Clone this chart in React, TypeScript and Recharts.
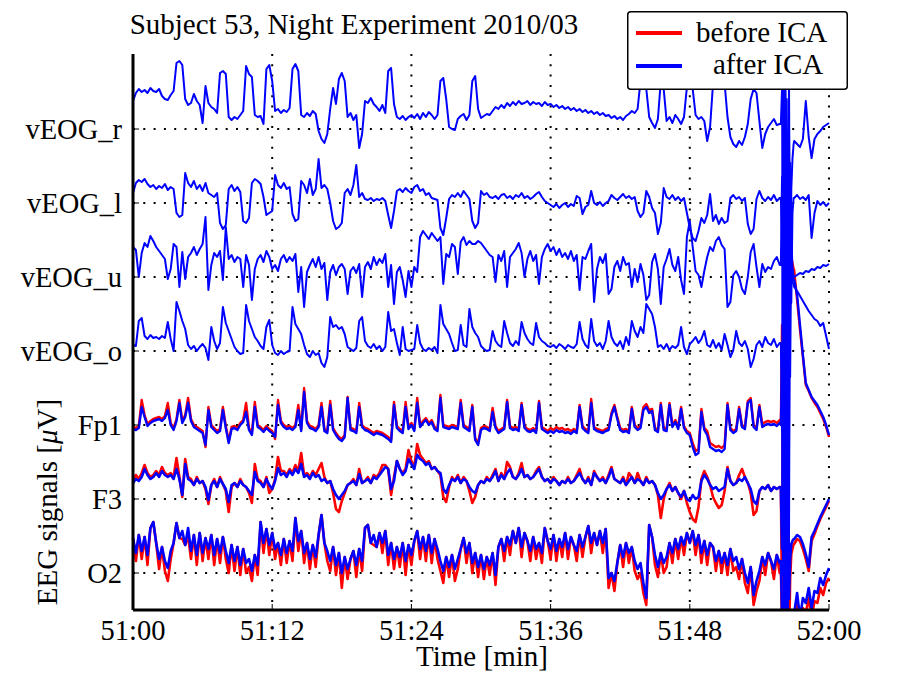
import React from 'react';
import { LineChart, Line, XAxis, YAxis, CartesianGrid, Legend } from 'recharts';

// channel names, bottom to top
const CHANNELS = ['O2', 'F3', 'Fp1', 'vEOG_o', 'vEOG_u', 'vEOG_l', 'vEOG_r'];
const SPACING = 74; // uV between stacked channels
const X_TICKS = [0, 12, 24, 36, 48, 60]; // seconds after 51:00

// sample times (s), every 0.25 s
const T = Array.from({ length: 241 }, (_, i) => i * 0.25);
// movement artifact at ~51:56, finer samples
const BURST_T = [55.85, 55.95, 56.05, 56.15, 56.25, 56.35, 56.45, 56.55, 56.65, 56.75, 56.85, 56.95];

// values in uV, one row = 5 s
const vEOG_r = [
  28, 36, 40, 37, 39, 36, 41, 38, 37, 40, 33, 30, 29, 34, 38, 66, 68, 64, 30, 24,
  26, 35, 28, 24, 6, 43, 26, 22, 20, 16, 56, 58, 55, 12, 9, 12, 10, 14, 18, 63,
  55, 52, 14, 12, 13, 5, 60, 64, 48, 18, 20, 16, 19, 17, 21, 60, 65, 58, 14, 12,
  16, 13, 18, 15, -2, -10, -14, -5, 20, 41, 25, 50, 56, 48, 12, 16, 9, 14, -19, -5,
  28, 26, 31, 25, 22, 18, 24, 16, 58, 61, 25, 12, 10, 13, 9, 12, 14, 11, 15, 10,
  16, 12, 17, 14, 10, 14, 48, 51, 30, 2, 0, -1, 10, 13, 15, 9, 14, 48, 53, 20,
  11, 13, 15, 14, 18, 22, 20, 24, 21, 26, 23, 27, 24, 28, 25, 26, 28, 24, 27, 25,
  26, 23, 27, 24, 25, 22, 24, 21, 23, 20, 22, 19, 21, 18, 20, 17, 19, 16, 18, 15,
  17, 14, 16, 13, 14, 11, 13, 10, 12, 9, 13, 15, 18, 16, 20, 48, 45, 40, 12, 6,
  1, 10, 48, 40, 8, 12, 6, 14, 10, 5, 12, 42, 46, 40, 14, 10, 12, 8, -12, 2,
  45, 50, 48, 52, 46, 12, -8, -15, -18, -12, -16, -8, 5, 30, 40, 36, 8, -19, -5, 2,
  6, 10, 4, 5, null, null, null, null, -12, -15, -18, -10, 28, -8, -29, -10, -5, -2, 2, 4,
  6,
];
const vEOG_l = [
  10, 20, 23, 21, 24, 19, 16, 18, 14, 17, 15, 19, 13, 16, 14, -10, -14, -12, 30, 20,
  16, 22, 14, 18, 12, 20, 10, 8, 6, 10, -20, -26, -22, 14, 18, 12, 16, 11, -18, -20,
  -15, 20, 24, 22, 19, 6, -12, -10, -8, 28, 18, 15, 20, 14, 16, -11, -18, -16, 22, 18,
  10, 24, 8, 14, 44, 15, 18, 14, 0, -18, -26, -24, -20, 10, 14, 8, 18, 38, 6, 10,
  4, 3, 5, 2, 4, 3, 5, 2, -12, -25, -8, 12, 14, 11, 15, 12, 10, 16, 18, 12,
  14, 8, 10, 5, 4, 3, -25, -32, -15, 4, 8, 6, 10, 6, 12, 8, 4, -18, -25, -20,
  12, 8, 10, 6, 5, 7, 4, 8, 9, 5, 7, 4, 8, 6, 10, 5, 7, 4, 6, 9,
  11, 6, 2, 0, -2, -4, -1, -5, -2, 0, -4, -1, -3, 7, 5, -11, -4, -2, 12, 0,
  -2, 1, -3, 0, 2, 8, 5, 3, 6, 9, 5, 7, 4, 6, -8, -14, -10, 12, 6, -5,
  -10, -31, -20, 15, 6, 4, 8, 3, 6, 2, 5, -10, -25, -35, -38, -28, -15, -20, -12, 9,
  -18, -12, -21, -15, -20, -18, 5, 8, 4, 6, 2, 5, -21, -31, -26, 4, 12, 5, 2, 6,
  3, 8, 2, 5, null, null, null, null, 5, 8, 4, 6, 3, 8, -35, -10, 2, -2, 1, -3,
  0,
];
const vEOG_u = [
  30, 27, 0, 24, 34, 30, 41, 36, 30, 26, 22, 18, -2, 8, 33, 30, -10, 25, -2, 20,
  24, 30, 22, 28, 33, 60, -13, 12, 24, 20, 26, -3, 50, 18, 22, 15, 20, 18, -10, 22,
  12, -23, 8, 18, 22, 15, 26, 20, 8, 12, 6, 18, 22, 15, 20, 16, 23, -15, 10, -30,
  5, 12, 18, 10, 20, 8, 14, -23, 5, 12, 2, 10, 13, 8, -17, 6, 10, 4, 13, -20,
  10, 15, 8, 20, 12, 18, 14, 23, -10, 12, -27, 5, 10, -3, -20, 6, -10, 10, 5, 40,
  46, 42, 38, 44, 40, 36, 40, -7, 23, 20, 33, 30, 3, 35, 40, 32, 36, 33, 33, 36,
  34, 30, 26, 22, 20, -5, 22, 16, 26, -10, 20, 24, 28, 34, 24, 0, 18, 26, 16, 22,
  -7, 20, 28, 33, 26, 30, 22, 28, 20, 24, 18, 26, 16, 22, -13, 20, 18, 26, 33, -25,
  8, 20, 14, 23, -17, -12, 10, 16, 6, 20, 12, 14, -10, 8, -5, 13, 2, -23, -18, 15,
  23, 8, -27, 10, 18, 28, 12, 6, 20, -3, -17, 40, 56, 30, 6, 2, -10, 6, 20, 30,
  26, 36, 40, 32, 28, -30, -25, 2, 6, 0, -12, -17, 0, 25, 33, 10, -10, 13, 5, 10,
  8, 16, 20, 12, null, null, null, null, 0, 2, 4, 3, 6, 5, 8, 7, 10, 9, 12, 11,
  13,
];
const vEOG_o = [
  6, 5, 30, 33, 15, 12, 16, 13, 14, 12, 15, 13, 29, 12, 0, 49, 40, 30, 22, 6,
  2, 5, 0, 4, 7, 3, -9, 24, 10, 2, 8, 44, 28, 20, 12, 4, 0, -3, -2, 46,
  30, 22, 14, 10, 5, 2, 24, 31, 6, -2, -4, 0, -3, -1, 0, 44, 27, 22, 17, 6,
  -3, -6, 0, -4, -2, -12, -16, -6, 34, 24, 26, 22, 24, 17, 4, 2, 0, 3, 30, 34,
  10, 5, 3, 7, 2, 5, 0, 4, 39, 20, 22, 8, -4, 24, 2, 0, 1, 2, 26, 8,
  2, 0, 3, 1, 4, -2, 46, 27, 22, 17, 8, 0, 1, 26, 6, 4, 42, 24, 18, 14,
  5, 2, 0, 1, 20, 10, 6, 4, 30, 18, 8, 5, 10, 6, 29, 18, 12, 8, 6, 28,
  14, 10, 8, 5, 4, 6, 3, 7, 5, 2, 6, 4, 3, 7, 29, 12, 6, 3, 32, 10,
  5, 8, 2, 10, 30, 14, 8, 5, 10, 2, 14, 6, 30, 20, 14, 24, 18, 47, 42, 37,
  24, 4, 6, 2, 7, 1, 5, 3, 6, 24, 4, -3, 7, 10, 14, 8, 12, 20, 6, 4,
  11, 3, 8, 1, 17, 6, -6, 1, 20, 8, 5, 10, 2, -16, -8, 6, 10, 4, 14, 8,
  6, 12, 4, 8, null, null, null, null, 64, 60, 55, 50, 45, 40, 36, 32, 30, 25, 28, 15,
  2,
];
const fp1After = [
  -4, -5, -3, 18, 8, -1, 2, 4, 5, 6, 4, 7, 15, 0, -5, 4, 22, 2, 8, 22,
  4, -2, -4, -6, -8, -20, 15, -2, -5, -8, -6, 15, -3, -18, -4, -3, -5, 0, 3, 13,
  -5, -10, 18, -2, -4, -7, -3, -6, -8, -12, 20, 2, -2, -4, -3, -5, -2, 15, -6, 33,
  2, -3, -4, -6, -2, 18, -6, -8, 20, -5, -10, -14, -16, -12, 27, -5, -6, -8, 18, -2,
  -5, -6, -8, -10, -8, -9, -10, -12, -14, -17, 20, -3, -6, -8, 18, -4, 0, -6, 22, -2,
  2, 5, 0, 3, -4, -6, 27, -2, -3, -4, -2, -3, -4, 22, -2, -4, -6, 18, -15, -20,
  -5, -3, -4, -6, 13, -3, -8, -6, -4, 23, -3, -5, -4, -6, 20, -3, -6, -7, -5, -8,
  22, -4, -6, -8, -6, -8, -5, -7, -6, -8, -7, -9, -6, -8, 18, -3, -6, -8, 22, -4,
  -6, -7, -8, -6, -5, 10, 18, 6, -5, -7, -6, -8, 16, -2, -5, -3, 15, 18, 12, 14,
  -5, -7, 20, -5, -6, 20, -2, 3, -4, 16, -3, -8, -10, -22, -30, -28, 13, -5, -10, -22,
  -24, -26, -25, -27, -24, 20, -5, -8, -6, 16, -2, -4, 22, 25, -2, -5, 18, -2, 0, 1,
  0, 1, -1, 2, null, null, null, null, 145, 130, 100, 70, 42, 35, 28, 24, 20, 14, 8, 0,
  -10,
];
const fp1Before = [
  -2, -3, -1, 25, 10, 1, 4, 6, 7, 8, 6, 9, 22, 2, -3, 6, 25, 4, 10, 27,
  6, 0, -2, -4, -6, -22, 18, 0, -3, -6, -4, 18, -1, -16, -2, -1, -3, 2, 5, 22,
  -3, -8, 23, 0, -2, -5, -1, -4, -6, -14, 25, 4, 0, -2, -1, -3, 0, 20, -4, 37,
  4, -1, -2, -4, 0, 22, -4, -6, 24, -3, -8, -12, -14, -10, 28, -3, -4, -6, 22, 0,
  -3, -4, -6, -8, -6, -7, -8, -10, -12, -15, 23, -1, -4, -6, 23, -2, 2, -4, 27, 0,
  4, 7, 2, 5, -2, -4, 30, 0, -1, -2, 0, -1, -2, 25, 0, -2, -4, 20, -13, -18,
  -3, -1, -2, -4, 17, -1, -6, -4, -2, 25, -1, -3, -2, -4, 22, -1, -4, -5, -3, -6,
  24, -2, -4, -6, -3, -5, -2, -4, -3, -5, -4, -6, -4, -6, 20, -1, -4, -6, 26, -2,
  -4, -5, -6, -4, -3, 12, 20, 8, -3, -5, -4, -6, 18, 0, -3, -1, 18, 21, 15, 16,
  -3, -5, 22, -3, -4, 22, 0, 5, -2, 18, -1, -6, -8, -18, -26, -24, 16, -3, -6, -18,
  -20, -22, -21, -23, -20, 22, -3, -6, -4, 18, 0, -2, 24, 27, 0, -3, 20, 1, 3, 4,
  3, 4, 2, 5, null, null, null, null, 155, 125, 95, 68, 40, 34, 27, 22, 18, 12, 6, -2,
  -12,
];
const f3After = [
  16, 20, 18, 22, 30, 24, 20, 22, 26, 22, 28, 24, 22, 24, 20, 30, 20, 4, 35, 20,
  18, 14, 20, 16, 18, 12, -1, 14, 18, 12, 20, 15, 10, -3, 14, 16, 12, 18, 14, 12,
  8, 4, 27, 18, 16, 12, 20, 14, 10, 18, 31, 24, 26, 22, 28, 24, 30, 26, 35, 22,
  24, 20, 26, 22, 24, 18, 20, 16, 18, 10, 4, 0, 4, 8, 14, 16, 18, 14, 25, 16,
  18, 20, 16, 22, 20, 24, 28, 32, 30, 10, 18, 38, 30, 24, 28, 40, 35, 30, 44, 40,
  38, 34, 36, 30, 32, 28, 26, 10, 6, 14, 20, 18, 22, 16, 20, 18, 12, 8, 6, 14,
  18, 16, 20, 18, 22, 28, 18, 24, 20, 26, 30, 22, 20, 24, 30, 22, 24, 20, 22, 26,
  30, 22, 18, 20, 16, 20, 18, 14, 18, 16, 20, 16, 18, 22, 26, 20, 16, 20, 14, 26,
  22, 18, 20, 16, 22, 30, 20, 18, 16, 20, 14, 18, 22, 16, 20, 18, 14, 20, 16, 18,
  14, 6, 0, 4, 10, 14, 8, 12, 6, 2, 8, 0, -2, 4, 0, 2, 18, 24, 20, 14,
  10, 12, 8, 10, 12, 30, 18, 14, 16, 20, 18, 22, 16, 10, -2, -5, 8, 12, 10, 14,
  8, 12, 10, 12, null, null, null, null, -40, -36, -38, -45, -55, -68, -38, -32, -25, -18, -12, -6,
  0,
];
const f3Before = [
  18, 24, 20, 26, 34, 26, 22, 24, 28, 24, 32, 26, 24, 26, 22, 41, 22, 2, 40, 22,
  20, 14, 22, 16, 18, 10, -5, 14, 20, 12, 22, 15, 8, -13, 12, 16, 12, 20, 14, 12,
  6, -4, 35, 20, 18, 12, 22, 6, 10, 20, 42, 28, 28, 24, 30, 26, 34, 28, 46, 24,
  26, 22, 28, 24, 30, 36, 22, 16, 18, 6, -10, -13, -2, 6, 14, 16, 20, 14, 30, 16,
  18, 22, 16, 24, 22, 26, 34, 34, 30, 4, 22, 38, 30, 26, 30, 49, 38, 32, 55, 44,
  40, 36, 38, 30, 32, 28, 24, 2, -3, 12, 22, 18, 24, 16, 22, 18, 8, -4, 2, 14,
  18, 16, 22, 18, 24, 30, 18, 26, 20, 37, 32, 22, 20, 26, 36, 22, 24, 20, 22, 28,
  32, 22, 18, 20, 16, 22, 18, 14, 18, 16, 22, 16, 18, 24, 30, 20, 16, 22, 14, 28,
  22, 18, 22, 16, 24, 32, 20, 18, 16, 22, 14, 26, 22, 16, 26, 18, 14, 22, 16, 18,
  14, 4, -19, 0, 10, 16, 8, 12, 6, 0, 8, -4, -13, -20, -23, -8, 20, 28, 22, 14,
  2, -4, -9, -6, 8, 32, 18, 14, 16, 24, 30, 22, 16, 6, -16, -12, 8, 12, 10, 14,
  8, 12, 10, 12, null, null, null, null, -45, -40, -42, -50, -60, -72, -42, -35, -27, -20, -14, -8,
  -2,
];
const o2After = [
  35, 20, 38, 22, 36, 18, 45, 51, 30, 14, 26, 12, 5, 22, 30, 50, 35, 42, 28, 45,
  22, 38, 18, 40, 20, 35, 24, 38, 18, 34, 20, 36, 22, 10, 28, 12, 26, 8, 24, 10,
  14, 2, 18, 8, 51, 30, 44, 28, 40, 24, 30, 18, 34, 20, 32, 22, 55, 32, 42, 20,
  30, 14, 28, 16, 38, 58, 30, 22, 12, 26, 8, 20, 0, 16, 4, 14, 22, 8, 24, 12,
  45, 48, 30, 38, 26, 40, 30, 42, 18, 30, 14, 26, 16, 30, 12, 28, 18, 32, 42, 24,
  36, 22, 38, 20, 34, 24, 12, 2, 16, 6, 18, 4, 14, 24, 35, 20, 30, 10, 20, 6,
  18, 4, 16, 8, 20, -2, 26, 34, 22, 36, 28, 42, 30, 45, 26, 40, 32, 22, 36, 24,
  30, 20, 45, 32, 24, 38, 22, 34, 26, 40, 24, 36, 28, 22, 38, 26, 36, 47, 30, 40,
  28, 42, 30, 44, -5, 0, -8, 10, 28, 16, 30, 20, 26, 12, 4, 10, -10, -25, 48, 36,
  18, 6, 20, 10, 16, 30, 20, 34, 24, 36, 28, 40, 30, 42, 28, 38, 20, 32, 18, 30,
  26, 12, 22, 10, 20, 8, 24, 12, 16, 4, 14, 0, -10, 6, -22, -8, 2, 16, 8, 20,
  12, 4, 18, 10, null, null, null, null, -40, -20, -45, -25, -30, -15, -35, -18, -20, -5, -12, -2,
  5,
];
const o2Before = [
  35, 12, 38, 14, 36, 8, 45, 51, 30, 4, 26, 2, -8, 14, 30, 50, 35, 34, 28, 37,
  14, 38, 8, 40, 12, 35, 14, 38, 8, 34, 10, 36, 14, 0, 28, 2, 26, -2, 24, 0,
  6, -8, 18, -2, 51, 20, 44, 18, 40, 14, 30, 8, 34, 10, 32, 12, 55, 22, 42, 10,
  30, 4, 28, 6, 38, 58, 30, 12, 2, 26, -2, 20, -15, 16, -6, 14, 22, -4, 24, 2,
  45, 48, 30, 28, 26, 40, 20, 42, 8, 30, 4, 26, 6, 30, -2, 28, 8, 32, 42, 14,
  36, 12, 38, 10, 34, 14, 2, -10, 16, -4, 18, -8, 4, 24, 35, 10, 30, 0, 20, -4,
  18, -6, 16, -2, 20, -12, 26, 34, 12, 36, 18, 42, 30, 45, 16, 40, 32, 12, 36, 14,
  30, 10, 45, 32, 14, 38, 12, 34, 16, 40, 14, 36, 28, 12, 38, 16, 36, 47, 20, 40,
  28, 42, 20, 44, -15, 0, -18, 10, 28, 6, 30, 10, 26, 2, -6, 0, -20, -32, 48, 36,
  8, -4, 20, 0, 6, 30, 10, 34, 14, 36, 18, 40, 30, 42, 18, 38, 10, 32, 8, 30,
  26, 2, 22, 0, 20, -2, 24, 2, 6, -6, 14, -10, -20, 6, -32, -18, -8, 16, -2, 20,
  12, -6, 18, 0, null, null, null, null, -50, -30, -55, -35, -40, -25, -45, -28, -30, -15, -22, -10,
  -5,
];

// artifact samples at BURST_T
const burst = {
  vEOG_r: [5, 40, -120, 60, -250, 30, -300, 50, -180, -60, -30, -15],
  vEOG_l: [5, -40, 150, -200, 80, -320, 60, -260, 40, -100, -10, 5],
  vEOG_u: [12, 100, -150, 250, -200, 120, -300, 150, -100, 40, 10, 0],
  vEOG_o: [8, -80, 200, -150, 300, -250, 150, -200, 180, 80, 70, 66],
  fp1After: [0, 50, -150, 200, -250, 150, -200, 100, 160, 150, 148, 145],
  fp1Before: [2, 100, -200, 300, -300, 200, -300, 250, 175, 168, 162, 156],
  f3After: [10, -50, 80, -200, 60, -150, -30, -100, -60, -45, -42, -40],
  f3Before: [12, -100, 60, -300, 40, -200, -60, -150, -80, -55, -50, -45],
  o2After: [12, -40, -150, -60, -200, -80, -250, -100, -150, -60, -45, -42],
  o2Before: [8, -60, -200, -80, -250, -100, -300, -150, -180, -80, -60, -50],
};

const offsetOf = (name: string) => (CHANNELS.indexOf(name) + 1) * SPACING;

function series(values: (number | null)[], extra: number[], offset: number) {
  const t0 = BURST_T[0];
  const t1 = BURST_T[BURST_T.length - 1];
  const pts: { t: number; v: number }[] = [];
  T.forEach((t, i) => {
    const v = values[i];
    if (v != null && (t < t0 || t > t1)) pts.push({ t, v: v + offset });
  });
  BURST_T.forEach((t, i) => pts.push({ t, v: extra[i] + offset }));
  return pts.sort((a, b) => a.t - b.t);
}

const RED = '#ff0000';
const BLUE = '#0000ff';
const FONT = '"Liberation Serif", "Times New Roman", serif';

// noisier EEG channels are drawn a bit heavier
const before = [
  { key: 'fp1Before', w: 2.4, data: series(fp1Before, burst.fp1Before, offsetOf('Fp1')) },
  { key: 'f3Before', w: 2.6, data: series(f3Before, burst.f3Before, offsetOf('F3')) },
  { key: 'o2Before', w: 2.6, data: series(o2Before, burst.o2Before, offsetOf('O2')) },
];
const after = [
  { key: 'vEOG_r', w: 2, data: series(vEOG_r, burst.vEOG_r, offsetOf('vEOG_r')) },
  { key: 'vEOG_l', w: 2, data: series(vEOG_l, burst.vEOG_l, offsetOf('vEOG_l')) },
  { key: 'vEOG_u', w: 2, data: series(vEOG_u, burst.vEOG_u, offsetOf('vEOG_u')) },
  { key: 'vEOG_o', w: 2, data: series(vEOG_o, burst.vEOG_o, offsetOf('vEOG_o')) },
  { key: 'fp1After', w: 2.4, data: series(fp1After, burst.fp1After, offsetOf('Fp1')) },
  { key: 'f3After', w: 2.6, data: series(f3After, burst.f3After, offsetOf('F3')) },
  { key: 'o2After', w: 2.6, data: series(o2After, burst.o2After, offsetOf('O2')) },
];

const Y_TICKS = CHANNELS.map((_, i) => (i + 1) * SPACING);

function timeLabel(s: number) {
  const m = 51 + Math.floor(s / 60);
  const sec = s % 60;
  return `${m}:${sec < 10 ? '0' : ''}${sec}`;
}

function LegendBox() {
  return (
    <svg width={221} height={79} style={{ display: 'block' }}>
      <rect x={0.75} y={0.75} width={219.5} height={77.5} rx={3} fill="#fff" stroke="#000" strokeWidth={1.5} />
      <line x1={9} x2={55} y1={22} y2={22} stroke={RED} strokeWidth={4} />
      <line x1={9} x2={55} y1={55} y2={55} stroke={BLUE} strokeWidth={4} />
      <text x={69} y={31} fontFamily={FONT} fontSize={29} fill="#000">before ICA</text>
      <text x={86} y={62.5} fontFamily={FONT} fontSize={29} fill="#000">after ICA</text>
    </svg>
  );
}

export default function App() {
  return (
    <div style={{ position: 'absolute', left: 0, top: 0, width: 903, height: 681, background: '#fff' }}>
      <LineChart width={903} height={681} margin={{ top: 54, right: 74, bottom: 31, left: 0 }}>
        <CartesianGrid stroke="#000" strokeWidth={2} strokeDasharray="2 8.3" syncWithTicks />
        <XAxis
          dataKey="t"
          type="number"
          domain={[0, 60]}
          ticks={X_TICKS}
          interval={0}
          height={40}
          tickFormatter={timeLabel}
          tick={{ fill: '#000', fontSize: 28.5, fontFamily: FONT }}
          axisLine={{ stroke: '#000', strokeWidth: 3 }}
          tickLine={{ stroke: '#000', strokeWidth: 1 }}
          tickSize={-6}
          tickMargin={16}
        />
        <YAxis
          type="number"
          domain={[37, 593]}
          allowDataOverflow
          ticks={Y_TICKS}
          interval={0}
          width={133}
          tickFormatter={(v: number) => CHANNELS[Math.round(v / SPACING) - 1] ?? ''}
          tick={{ fill: '#000', fontSize: 28.5, fontFamily: FONT }}
          axisLine={{ stroke: '#000', strokeWidth: 3 }}
          tickLine={{ stroke: '#000', strokeWidth: 1 }}
          tickSize={-6}
          tickMargin={17}
        />
        {before.map((s) => (
          <Line
            key={s.key}
            data={s.data}
            dataKey="v"
            type="linear"
            stroke={RED}
            strokeWidth={s.w}
            strokeLinejoin="round"
            dot={false}
            activeDot={false}
            isAnimationActive={false}
          />
        ))}
        {after.map((s) => (
          <Line
            key={s.key}
            data={s.data}
            dataKey="v"
            type="linear"
            stroke={BLUE}
            strokeWidth={s.w}
            strokeLinejoin="round"
            dot={false}
            activeDot={false}
            isAnimationActive={false}
          />
        ))}
        <Legend
          layout="horizontal"
          align="center"
          verticalAlign="middle"
          content={() => <LegendBox />}
          wrapperStyle={{ left: 627, top: 11, width: 221, height: 79 }}
        />
      </LineChart>
      <svg
        width={903}
        height={681}
        style={{ position: 'absolute', left: 0, top: 0, pointerEvents: 'none' }}
      >
        <text x={354} y={34} textAnchor="middle" fontFamily={FONT} fontSize={29} fill="#000">
          Subject 53, Night Experiment 2010/03
        </text>
        <text x={482} y={666} textAnchor="middle" fontFamily={FONT} fontSize={29} fill="#000">
          Time [min]
        </text>
        <text
          x={57}
          y={502}
          transform="rotate(-90 57 502)"
          textAnchor="middle"
          fontFamily={FONT}
          fontSize={29}
          fill="#000"
        >
          EEG signals [<tspan fontStyle="italic">μ</tspan>V]
        </text>
      </svg>
    </div>
  );
}
